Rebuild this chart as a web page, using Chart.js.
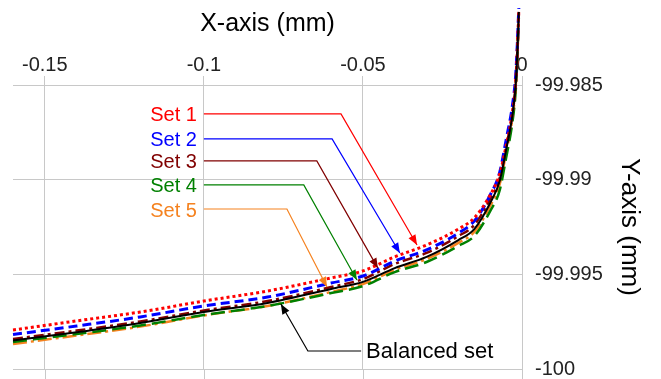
<!DOCTYPE html>
<html>
<head>
<meta charset="utf-8">
<script src="https://cdn.jsdelivr.net/npm/chart.js@4.4.1/dist/chart.umd.min.js"></script>
<style>
    html, body { margin: 0; padding: 0; background: #fff; }
    #wrap { width: 661px; height: 379px; }
</style>
</head>
<body>
<div id="wrap"><canvas id="chart" width="661" height="379"></canvas></div>
<script>
(function() {
    'use strict';

    // X positions (mm) shared by all curves
    var xValues = [-0.16, -0.14, -0.12, -0.1, -0.08, -0.06, -0.05, -0.04, -0.03, -0.02, -0.015, -0.01, -0.007, -0.005, -0.003, -0.002, -0.0015, -0.001];

    // Y values (mm)
    var balancedSet = [-99.99850, -99.99806, -99.99757, -99.99699, -99.99651, -99.99577, -99.99540, -99.99467, -99.99408, -99.99319, -99.99261, -99.99123, -99.99007, -99.98843, -99.98658, -99.98500, -99.98342, -99.98114];
    var set1 = [-99.99794, -99.99746, -99.99699, -99.99641, -99.99588, -99.99519, -99.99482, -99.99408, -99.99345, -99.99261, -99.99202, -99.99081, -99.98970, -99.98822, -99.98643, -99.98489, -99.98326, -99.98104];
    var set2 = [-99.99818, -99.99773, -99.99725, -99.99667, -99.99620, -99.99546, -99.99509, -99.99430, -99.99371, -99.99282, -99.99218, -99.99081, -99.98960, -99.98790, -99.98606, -99.98452, -99.98294, -99.98093];
    var set3 = [-99.99842, -99.99797, -99.99749, -99.99691, -99.99641, -99.99567, -99.99525, -99.99445, -99.99387, -99.99298, -99.99239, -99.99102, -99.98991, -99.98827, -99.98648, -99.98495, -99.98336, -99.98114];
    var set4 = [-99.99857, -99.99815, -99.99770, -99.99715, -99.99667, -99.99599, -99.99562, -99.99488, -99.99435, -99.99350, -99.99298, -99.99166, -99.99055, -99.98886, -99.98695, -99.98537, -99.98379, -99.98146];
    var set5 = [-99.99868, -99.99823, -99.99776, -99.99717, -99.99667, -99.99593, -99.99551, -99.99477, -99.99419, -99.99334, -99.99276, -99.99139, -99.99023, -99.98859, -99.98674, -99.98511, -99.98357, -99.98130];

    // Tick values and labels
    var xTicks = [-0.15, -0.1, -0.05, 0];
    var xTickLabels = ['-0.15', '-0.1', '-0.05', '0'];
    var yTicks = [-100, -99.995, -99.99, -99.985];
    var yTickLabels = ['-100', '-99.995', '-99.99', '-99.985'];

    var FONT = '"Liberation Sans", Arial, sans-serif';

    // Callout labels, anchored in data units
    var callouts = [
        { text: 'Set 1', color: '#ff0000', lineY: -99.98653, cornerX: -0.0569, tipX: -0.0330, tipY: -99.99345 },
        { text: 'Set 2', color: '#0000ff', lineY: -99.98785, cornerX: -0.0597, tipX: -0.0384, tipY: -99.99387 },
        { text: 'Set 3', color: '#800000', lineY: -99.98901, cornerX: -0.0645, tipX: -0.0453, tipY: -99.99467 },
        { text: 'Set 4', color: '#008000', lineY: -99.99028, cornerX: -0.0686, tipX: -0.0519, tipY: -99.99530 },
        { text: 'Set 5', color: '#f5821f', lineY: -99.99155, cornerX: -0.0739, tipX: -0.0613, tipY: -99.99567 }
    ];
    var calloutStartX = -0.1;
    var balancedCallout = { text: 'Balanced set', color: '#000000', lineY: -99.99905, startX: -0.0490, cornerX: -0.0673, tipX: -0.0758, tipY: -99.99657 };

    function toPoints(ys) {
        return xValues.map(function(x, i) {
            return { x: x, y: ys[i] };
        });
    }

    function lineSet(label, ys, color, width, dash) {
        return {
            label: label,
            data: toPoints(ys),
            showLine: true,
            borderColor: color,
            backgroundColor: color,
            borderWidth: width,
            borderDash: dash,
            pointRadius: 0,
            cubicInterpolationMode: 'monotone',
            clip: false
        };
    }

    function drawArrowHead(ctx, fromX, fromY, toX, toY, color) {
        var ang = Math.atan2(toY - fromY, toX - fromX);
        var len = 10, half = 4;
        ctx.save();
        ctx.fillStyle = color;
        ctx.beginPath();
        ctx.moveTo(toX, toY);
        ctx.lineTo(toX - len * Math.cos(ang) + half * Math.sin(ang), toY - len * Math.sin(ang) - half * Math.cos(ang));
        ctx.lineTo(toX - len * Math.cos(ang) - half * Math.sin(ang), toY - len * Math.sin(ang) + half * Math.cos(ang));
        ctx.closePath();
        ctx.fill();
        ctx.restore();
    }

    function drawLeader(ctx, pts, color) {
        ctx.save();
        ctx.strokeStyle = color;
        ctx.lineWidth = 1.2;
        ctx.beginPath();
        ctx.moveTo(pts[0][0], pts[0][1]);
        for (var i = 1; i < pts.length; i++) {
            ctx.lineTo(pts[i][0], pts[i][1]);
        }
        ctx.stroke();
        ctx.restore();
        var n = pts.length;
        drawArrowHead(ctx, pts[n - 2][0], pts[n - 2][1], pts[n - 1][0], pts[n - 1][1], color);
    }

    var calloutPlugin = {
        id: 'callouts',
        beforeDatasetsDraw: function(chart) {
            // vertical grid lines run down to the bottom edge
            var ctx = chart.ctx, xs = chart.scales.x, area = chart.chartArea;
            ctx.save();
            ctx.strokeStyle = '#c8c8c8';
            ctx.lineWidth = 1;
            xTicks.forEach(function(v) {
                var px = Math.round(xs.getPixelForValue(v)) + 0.5;
                ctx.beginPath();
                ctx.moveTo(px, area.bottom);
                ctx.lineTo(px, chart.height);
                ctx.stroke();
            });
            ctx.restore();
        },
        afterDatasetsDraw: function(chart) {
            var ctx = chart.ctx, xs = chart.scales.x, ys = chart.scales.y;
            ctx.save();
            ctx.font = '20px ' + FONT;
            ctx.textBaseline = 'middle';

            callouts.forEach(function(c) {
                var sx = xs.getPixelForValue(calloutStartX);
                var ly = ys.getPixelForValue(c.lineY);
                ctx.fillStyle = c.color;
                ctx.textAlign = 'right';
                ctx.fillText(c.text, sx - 7, ly + 2);
                drawLeader(ctx, [
                    [sx, ly],
                    [xs.getPixelForValue(c.cornerX), ly],
                    [xs.getPixelForValue(c.tipX), ys.getPixelForValue(c.tipY)]
                ], c.color);
            });

            var b = balancedCallout;
            var bx = xs.getPixelForValue(b.startX);
            var by = ys.getPixelForValue(b.lineY);
            ctx.font = '22px ' + FONT;
            ctx.fillStyle = b.color;
            ctx.textAlign = 'left';
            ctx.fillText(b.text, bx, by + 1);
            drawLeader(ctx, [
                [bx - 5, by],
                [xs.getPixelForValue(b.cornerX), by],
                [xs.getPixelForValue(b.tipX), ys.getPixelForValue(b.tipY)]
            ], b.color);
            ctx.restore();
        }
    };

    var ctx = document.getElementById('chart').getContext('2d');

    new Chart(ctx, {
        type: 'scatter',
        data: {
            datasets: [
                lineSet('Balanced set', balancedSet, '#000000', 2, []),
                lineSet('Set 1', set1, '#ff0000', 3, [3, 3]),
                lineSet('Set 2', set2, '#0000ff', 3, [9, 5]),
                lineSet('Set 3', set3, '#800000', 2.5, [10, 4, 3, 4]),
                lineSet('Set 4', set4, '#008000', 2.5, [14, 6]),
                lineSet('Set 5', set5, '#f5821f', 2.5, [14, 4, 3, 4])
            ]
        },
        options: {
            responsive: false,
            devicePixelRatio: 1,
            animation: false,
            layout: { padding: { left: 13, right: 0, top: 0, bottom: 10 } },
            plugins: {
                legend: { display: false },
                tooltip: { enabled: false }
            },
            scales: {
                x: {
                    type: 'linear',
                    position: 'top',
                    min: -0.16,
                    max: 0,
                    afterBuildTicks: function(scale) {
                        scale.ticks = xTicks.map(function(v) { return { value: v }; });
                    },
                    afterFit: function(scale) {
                        scale.height = 85;
                    },
                    ticks: {
                        autoSkip: false,
                        maxRotation: 0,
                        padding: -1,
                        color: '#222',
                        font: { family: FONT, size: 20 },
                        callback: function(v, i) { return xTickLabels[i]; }
                    },
                    grid: { color: '#c8c8c8', lineWidth: 1, tickLength: 9 },
                    border: { display: false },
                    title: {
                        display: true,
                        text: 'X-axis (mm)',
                        color: '#000',
                        font: { family: FONT, size: 25 },
                        padding: { top: 9, bottom: 0 }
                    }
                },
                y: {
                    type: 'linear',
                    position: 'right',
                    min: -100,
                    max: -99.985,
                    afterBuildTicks: function(scale) {
                        scale.ticks = yTicks.map(function(v) { return { value: v }; });
                    },
                    afterFit: function(scale) {
                        scale.width = 139;
                    },
                    ticks: {
                        padding: 0,
                        color: '#222',
                        font: { family: FONT, size: 20, lineHeight: 1 },
                        callback: function(v, i) { return yTickLabels[i]; }
                    },
                    grid: { color: '#c8c8c8', lineWidth: 1, drawTicks: true, tickLength: 13, tickColor: 'rgba(0,0,0,0)' },
                    border: { display: false },
                    title: {
                        display: true,
                        text: 'Y-axis (mm)',
                        color: '#000',
                        font: { family: FONT, size: 26 },
                        padding: { top: 16, bottom: 16 }
                    }
                }
            }
        },
        plugins: [calloutPlugin]
    });
})();
</script>
</body>
</html>
